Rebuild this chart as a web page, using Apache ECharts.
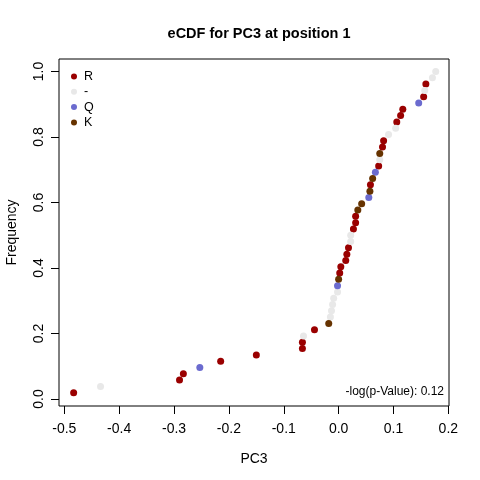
<!DOCTYPE html>
<html>
<head>
<meta charset="utf-8">
<script src="https://cdn.jsdelivr.net/npm/echarts@6/dist/echarts.min.js"></script>
<style>
  html, body { margin: 0; padding: 0; background: #fff; }
  #chart { width: 480px; height: 480px; }
</style>
</head>
<body>
<div id="chart"></div>
<script>
// sorted PC3 values, one per sequence, with the residue seen at position 1
const pc3Values = [
  -0.483, -0.434, -0.290, -0.283, -0.253, -0.215, -0.150, -0.066, -0.066, -0.064,
  -0.044, -0.018, -0.015, -0.013, -0.011, -0.009, -0.002, -0.002, 0.000, 0.002,
  0.004, 0.013, 0.015, 0.018, 0.022, 0.022, 0.027, 0.031, 0.031, 0.035,
  0.042, 0.055, 0.057, 0.058, 0.062, 0.067, 0.073, 0.075, 0.075, 0.080,
  0.082, 0.091, 0.104, 0.106, 0.113, 0.117, 0.146, 0.155, 0.157, 0.159,
  0.171, 0.177
];
const residues = [
  "R", "-", "R", "R", "Q", "R", "R", "R", "R", "-",
  "R", "K", "-", "-", "-", "-", "-", "Q", "K", "R",
  "R", "R", "R", "R", "-", "-", "R", "R", "R", "K",
  "K", "Q", "K", "R", "K", "Q", "R", "-", "K", "R",
  "R", "-", "-", "R", "R", "R", "Q", "R", "-", "R",
  "-", "-"
];
const legendOrder = ["R", "-", "Q", "K"];
const residueColors = { "R": "#9a0000", "-": "#e8e8e8", "Q": "#6b6bcf", "K": "#663300" };
const xTicks = [-0.5, -0.4, -0.3, -0.2, -0.1, 0.0, 0.1, 0.2];
const yTicks = [0.0, 0.2, 0.4, 0.6, 0.8, 1.0];
const pValueText = "-log(p-Value): 0.12";

const font = "Liberation Sans, Arial, sans-serif";
const n = pc3Values.length;

// eCDF: rank / n
const series = legendOrder.map((res) => ({
  name: res,
  type: "scatter",
  symbol: "circle",
  symbolSize: 7,
  itemStyle: { color: residueColors[res], opacity: 1 },
  data: pc3Values
    .map((v, i) => [v, (i + 1) / n, residues[i]])
    .filter((d) => d[2] === res)
    .map((d) => [d[0], d[1]]),
}));

const chart = echarts.init(document.getElementById("chart"));

chart.setOption({
  animation: false,
  backgroundColor: "#fff",
  title: {
    text: "eCDF for PC3 at position 1",
    left: 254,
    top: 21,
    textAlign: "center",
    textStyle: { fontFamily: font, fontSize: 14.5, fontWeight: "bold", color: "#000" },
  },
  grid: {
    left: 59,
    right: 31,
    top: 59,
    bottom: 74,
    outerBoundsMode: "none",
    containLabel: false,
    show: true,
    borderColor: "#000",
    borderWidth: 1,
    backgroundColor: "transparent",
  },
  legend: {
    data: legendOrder.map((r) => ({ name: r, icon: "circle" })),
    orient: "vertical",
    left: 66,
    top: 65,
    itemWidth: 6,
    itemHeight: 6,
    itemGap: 2.3,
    selectedMode: false,
    textStyle: { fontFamily: font, fontSize: 12.5, color: "#000", padding: [0, 0, 0, 2] },
  },
  xAxis: {
    type: "value",
    min: -0.5097,
    max: 0.2012,
    name: "PC3",
    nameLocation: "middle",
    nameGap: 46,
    nameTextStyle: { fontFamily: font, fontSize: 14, color: "#000" },
    axisLine: { show: false, onZero: false },
    splitLine: { show: false },
    axisTick: {
      show: true,
      inside: false,
      length: 8,
      customValues: xTicks,
      lineStyle: { color: "#000" },
    },
    axisLabel: {
      customValues: xTicks,
      margin: 16,
      fontFamily: font,
      fontSize: 14,
      color: "#000",
      formatter: (v) => v.toFixed(1),
    },
  },
  yAxis: {
    type: "value",
    min: -0.0214,
    max: 1.0382,
    name: "Frequency",
    nameLocation: "middle",
    nameGap: 40,
    nameTextStyle: { fontFamily: font, fontSize: 14, color: "#000" },
    axisLine: { show: false, onZero: false },
    splitLine: { show: false },
    axisTick: {
      show: true,
      inside: false,
      length: 8,
      customValues: yTicks,
      lineStyle: { color: "#000" },
    },
    axisLabel: {
      customValues: yTicks,
      rotate: 90,
      margin: 13,
      fontFamily: font,
      fontSize: 14,
      color: "#000",
      formatter: (v) => v.toFixed(1),
    },
  },
  graphic: [
    {
      type: "text",
      right: 36,
      top: 386,
      style: {
        text: pValueText,
        fontFamily: font,
        fontSize: 12,
        fill: "#000",
      },
    },
  ],
  series: series,
});
</script>
</body>
</html>
